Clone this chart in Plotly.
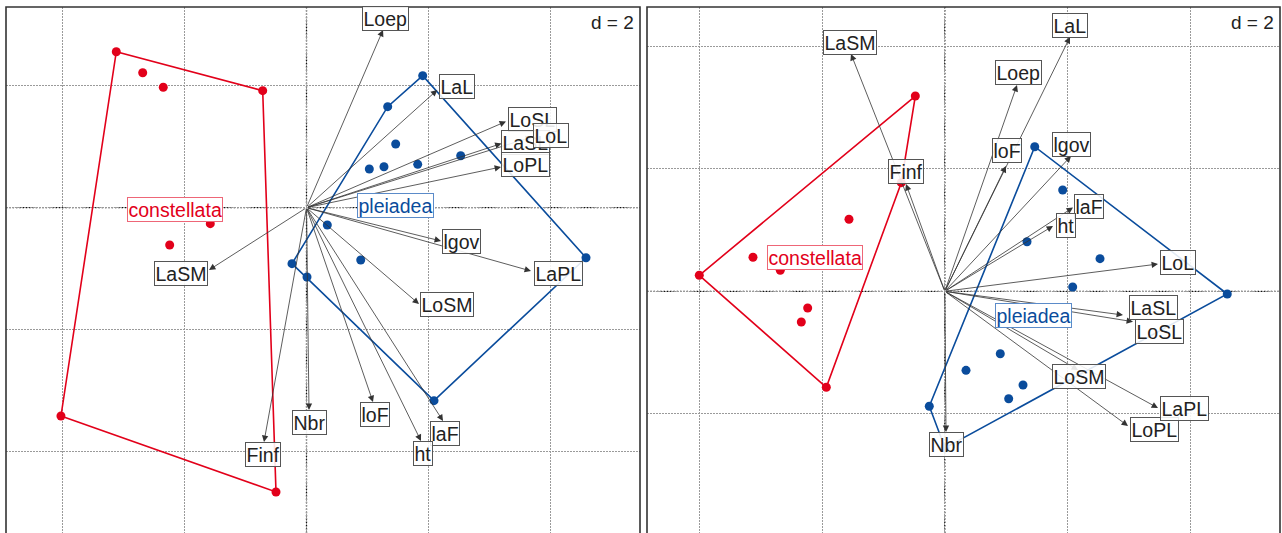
import plotly.graph_objects as go
import numpy as np

W, H = 1282, 533
FONT = "Liberation Sans, Arial, Helvetica, sans-serif"
RED = "#E2001A"
BLUE = "#0A4C9C"

# ---------------- data: left panel ----------------
p1_red_x = [-3.118, -2.685, -2.348, -0.718, -1.577, -2.243, -4.025, -0.500]
p1_red_y = [2.557, 2.213, 1.974, 1.918, -0.262, -0.611, -3.415, -4.660]
p1_blue_x = [1.905, 1.331, 1.462, 1.030, 1.270, 1.823, 2.528, 0.341, 0.889, -0.238, 0.008, 2.090, 4.582]
p1_blue_y = [2.164, 1.656, 1.044, 0.634, 0.672, 0.711, 0.852, -0.284, -0.857, -0.918, -1.136, -3.164, -0.820]

variables = ["LoSL", "LaSL", "LoL", "LoPL", "LaPL", "LoSM", "LaSM", "Loep", "LaL",
             "laF", "loF", "lgov", "ht", "Nbr", "Finf"]

p1_arrow_x = [3.270, 3.197, 3.697, 3.189, 3.680, 1.844, -1.598, 1.254, 2.144,
              2.238, 1.090, 2.205, 1.877, 0.041, -0.697]
p1_arrow_y = [1.413, 1.052, 1.159, 0.667, -1.038, -1.579, -1.021, 2.913, 1.930,
              -3.497, -3.185, -0.546, -3.825, -3.316, -3.841]
p1_label_x = [3.705, 3.595, 4.005, 3.595, 4.128, 2.295, -2.062, 1.290, 2.467,
              2.266, 1.115, 2.546, 1.902, 0.049, -0.708]
p1_label_y = [1.446, 1.061, 1.187, 0.703, -1.074, -1.595, -1.079, 3.102, 1.990,
              -3.698, -3.395, -0.554, -4.033, -3.525, -4.054]

# ---------------- data: right panel ----------------
p2_red_x = [-0.481, -0.710, -1.563, -3.129, -2.684, -4.005, -2.237, -2.341, -1.933]
p2_red_y = [3.186, 1.772, 1.175, 0.555, 0.343, 0.261, -0.272, -0.501, -1.566]
p2_blue_x = [1.467, 1.923, 1.341, 2.532, 4.608, 2.086, 0.905, 0.346, 1.276, 1.042, -0.253, 0.003]
p2_blue_y = [2.359, 1.653, 0.809, 0.532, -0.044, 0.070, -1.018, -1.289, -1.529, -1.752, -1.876, -2.556]

p2_arrow_x = [3.070, 2.907, 3.478, 2.989, 3.478, 2.173, -1.530, 1.178, 2.042,
              2.091, 0.998, 2.059, 1.765, 0.020, -0.633]
p2_arrow_y = [-0.496, -0.387, 0.445, -2.197, -1.904, -1.284, 3.871, 3.365, 4.148,
              1.367, 2.044, 2.207, 1.065, -2.295, 1.750]
p2_label_x = [3.507, 3.408, 3.804, 3.413, 3.902, 2.194, -1.542, 1.199, 2.042,
              2.352, 1.011, 2.072, 1.972, 0.028, -0.633]
p2_label_y = [-0.648, -0.261, 0.470, -2.251, -1.912, -1.393, 4.067, 3.564, 4.331,
              1.380, 2.305, 2.398, 1.077, -2.507, 1.949]

groups = ["constellata", "pleiadea"]
grid_step = 2

# axis windows
p1_xrange = [-4.926, 5.467]
p1_yrange = [-5.333, 3.290]
p2_xrange = [-4.858, 5.468]
p2_yrange = [-3.943, 4.638]


def convex_hull(xs, ys):
    pts = sorted(set(zip(xs, ys)))

    def cross(o, a, b):
        return (a[0] - o[0]) * (b[1] - o[1]) - (a[1] - o[1]) * (b[0] - o[0])

    lower, upper = [], []
    for p in pts:
        while len(lower) >= 2 and cross(lower[-2], lower[-1], p) <= 0:
            lower.pop()
        lower.append(p)
    for p in reversed(pts):
        while len(upper) >= 2 and cross(upper[-2], upper[-1], p) <= 0:
            upper.pop()
        upper.append(p)
    hull = lower[:-1] + upper[:-1]
    hull.append(hull[0])
    return [h[0] for h in hull], [h[1] for h in hull]


fig = go.Figure()
annotations = []
shapes = []

panels = [
    ("x", "y", p1_red_x, p1_red_y, p1_blue_x, p1_blue_y,
     p1_arrow_x, p1_arrow_y, p1_label_x, p1_label_y),
    ("x2", "y2", p2_red_x, p2_red_y, p2_blue_x, p2_blue_y,
     p2_arrow_x, p2_arrow_y, p2_label_x, p2_label_y),
]

for (xr, yr, rx, ry, bx, by, ax_, ay_, lx, ly) in panels:
    # class hulls and points
    for gx, gy, col in [(rx, ry, RED), (bx, by, BLUE)]:
        hx, hy = convex_hull(gx, gy)
        fig.add_trace(go.Scatter(x=hx, y=hy, mode="lines", xaxis=xr, yaxis=yr,
                                 line=dict(color=col, width=1.6), hoverinfo="skip",
                                 showlegend=False))
        fig.add_trace(go.Scatter(x=gx, y=gy, mode="markers", xaxis=xr, yaxis=yr,
                                 marker=dict(color=col, size=9), hoverinfo="skip",
                                 showlegend=False))
    # origin dotted lines
    shapes.append(dict(type="line", xref=xr, yref=yr + " domain", x0=0, x1=0, y0=0, y1=1,
                       line=dict(color="#111", width=1.3, dash="1.5px,1.8px"), layer="below"))
    shapes.append(dict(type="line", xref=xr + " domain", yref=yr, x0=0, x1=1, y0=0, y1=0,
                       line=dict(color="#111", width=1.3, dash="1.5px,1.8px"), layer="below"))
    # arrows
    for tx, ty in zip(ax_, ay_):
        annotations.append(dict(x=tx, y=ty, ax=0, ay=0, xref=xr, yref=yr,
                                axref=xr, ayref=yr, text="", showarrow=True,
                                arrowhead=2, arrowsize=1.6, arrowwidth=0.8,
                                arrowcolor="#333", standoff=0, startstandoff=0))
    # variable labels
    for name, tx, ty in zip(variables, lx, ly):
        annotations.append(dict(x=tx, y=ty, xref=xr, yref=yr, text=name, showarrow=False,
                                xanchor="center", yanchor="middle",
                                font=dict(family=FONT, size=19.5, color="#222"),
                                bgcolor="rgba(255,255,255,0.88)", bordercolor="#555",
                                borderwidth=1, borderpad=0.5))
    # class labels at centroids
    for gname, gx, gy, col, bcol in [("constellata", rx, ry, RED, "#EE6677"),
                                      ("pleiadea", bx, by, BLUE, "#5B8BC9")]:
        annotations.append(dict(x=float(np.mean(gx)), y=float(np.mean(gy)), xref=xr, yref=yr,
                                text=gname, showarrow=False, xanchor="center", yanchor="middle",
                                font=dict(family=FONT, size=19.5, color=col),
                                bgcolor="white", bordercolor=bcol, borderwidth=1, borderpad=0.5))
    # d = 2
    annotations.append(dict(x=1, y=1, xref=xr + " domain", yref=yr + " domain",
                            xanchor="right", yanchor="top", xshift=-4, yshift=-3,
                            text="d = %d" % grid_step, showarrow=False,
                            font=dict(family=FONT, size=19, color="#222")))
    # panel frame (bottom edge lies below the window)
    shapes.append(dict(type="rect", xref=xr + " domain", yref=yr + " domain",
                       x0=0, x1=1, y0=-0.05, y1=1,
                       line=dict(color="#333", width=1.6), layer="above"))

axis_common = dict(showticklabels=False, ticks="", zeroline=False, showline=False,
                   showgrid=True, gridcolor="#9a9a9a", gridwidth=1, griddash="1.5px,1.5px",
                   tick0=0, dtick=grid_step, fixedrange=True)

fig.update_layout(
    width=W, height=H,
    margin=dict(l=0, r=0, t=0, b=0),
    paper_bgcolor="white", plot_bgcolor="white",
    showlegend=False,
    xaxis=dict(domain=[6 / W, 640 / W], range=p1_xrange, **axis_common),
    yaxis=dict(domain=[0, 526 / H], range=p1_yrange, **axis_common),
    xaxis2=dict(domain=[647 / W, 1280 / W], range=p2_xrange, anchor="y2", **axis_common),
    yaxis2=dict(domain=[0, 526 / H], range=p2_yrange, anchor="x2", **axis_common),
    annotations=annotations,
    shapes=shapes,
)

fig.write_html("out.html", config={"displayModeBar": False},
               post_script="document.body.style.margin='0';document.body.style.overflow='hidden';")
